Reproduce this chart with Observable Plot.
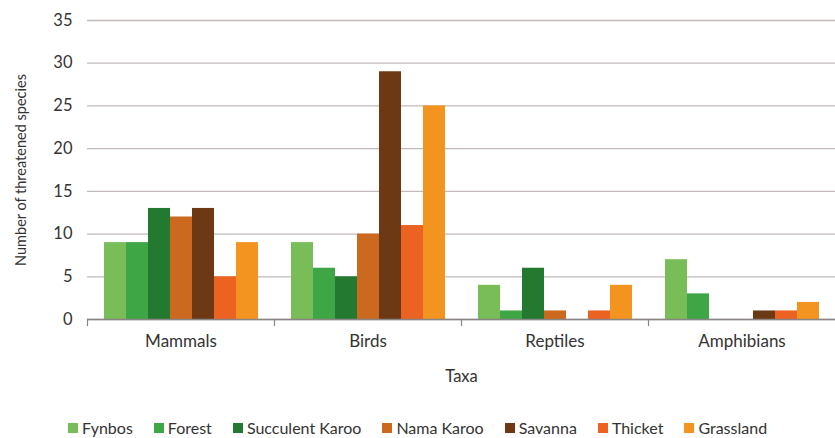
<!DOCTYPE html>
<html>
<head>
<meta charset="utf-8">
<script src="https://cdn.jsdelivr.net/npm/d3@7"></script>
<script src="https://cdn.jsdelivr.net/npm/@observablehq/plot@0.6"></script>
<style>
  body { margin: 0; background: #fff; font-family: Lato, "Liberation Sans", sans-serif; }
  #chart svg { display: block; }
  #legend { display: flex; justify-content: center; gap: 21px; font-size: 16px; color: #333; margin-top: 26px; padding-left: 0; }
  #legend span.item { display: inline-flex; align-items: center; }
  #legend span.sw { width: 10px; height: 10px; margin-right: 4px; display: inline-block; }
</style>
</head>
<body>
<div id="chart"></div>
<div id="legend"></div>
<script>
const taxa = ["Mammals", "Birds", "Reptiles", "Amphibians"];
const regions = ["Fynbos", "Forest", "Succulent Karoo", "Nama Karoo", "Savanna", "Thicket", "Grassland"];
const colors = ["#78bd57", "#3fa645", "#23792f", "#cb6a1f", "#6d3914", "#ec6221", "#f39421"];
const mammals = [9, 9, 13, 12, 13, 5, 9];
const birds = [9, 6, 5, 10, 29, 11, 25];
const reptiles = [4, 1, 6, 1, 0, 1, 4];
const amphibians = [7, 3, 0, 0, 1, 1, 2];
const yTicks = [0, 5, 10, 15, 20, 25, 30, 35];

const series = [mammals, birds, reptiles, amphibians];
const data = [];
taxa.forEach((t, i) => regions.forEach((r, j) => data.push({taxon: t, region: r, value: series[i][j]})));

const W = 835, H = 392, mTop = 20, mBottom = 73;
const plotH = H - mTop - mBottom;

const chart = Plot.plot({
  width: W,
  height: H,
  marginTop: mTop,
  marginBottom: mBottom,
  marginLeft: 87,
  marginRight: 0,
  style: {fontFamily: "Lato, 'Liberation Sans', sans-serif", fontSize: "15px", color: "#333"},
  fx: {domain: taxa, paddingInner: 0, paddingOuter: 0},
  x: {domain: regions, paddingInner: 0, paddingOuter: 0.75, axis: null},
  y: {domain: [0, 35]},
  color: {domain: regions, range: colors},
  marks: [
    Plot.gridY(yTicks, {stroke: "#c2b9b9", strokeOpacity: 1, strokeWidth: 1.3}),
    Plot.barY(data, {fx: "taxon", x: "region", y: "value", fill: "region"}),
    Plot.ruleY([0], {stroke: "#8a8585", strokeWidth: 1.4}),
    Plot.frame({anchor: "left", insetTop: plotH, insetBottom: -6, stroke: "#8a8585", strokeWidth: 1.2}),
    Plot.axisY(yTicks, {tickSize: 0, tickPadding: 15, label: null, fontSize: 16.5}),
    Plot.axisY([], {label: "Number of threatened species", labelAnchor: "center", labelArrow: "none", labelOffset: 72, fontSize: 14.5}),
    Plot.axisFx({anchor: "bottom", tickSize: 0, tickPadding: 15, label: null, fontSize: 17}),
    Plot.axisFx([], {anchor: "bottom", label: "Taxa", labelAnchor: "center", labelArrow: "none", labelOffset: 62, fontSize: 16.5})
  ]
});
document.getElementById("chart").appendChild(chart);

const legend = document.getElementById("legend");
regions.forEach((r, i) => {
  const item = document.createElement("span");
  item.className = "item";
  const sw = document.createElement("span");
  sw.className = "sw";
  sw.style.background = colors[i];
  item.appendChild(sw);
  item.appendChild(document.createTextNode(r));
  legend.appendChild(item);
});
</script>
</body>
</html>
